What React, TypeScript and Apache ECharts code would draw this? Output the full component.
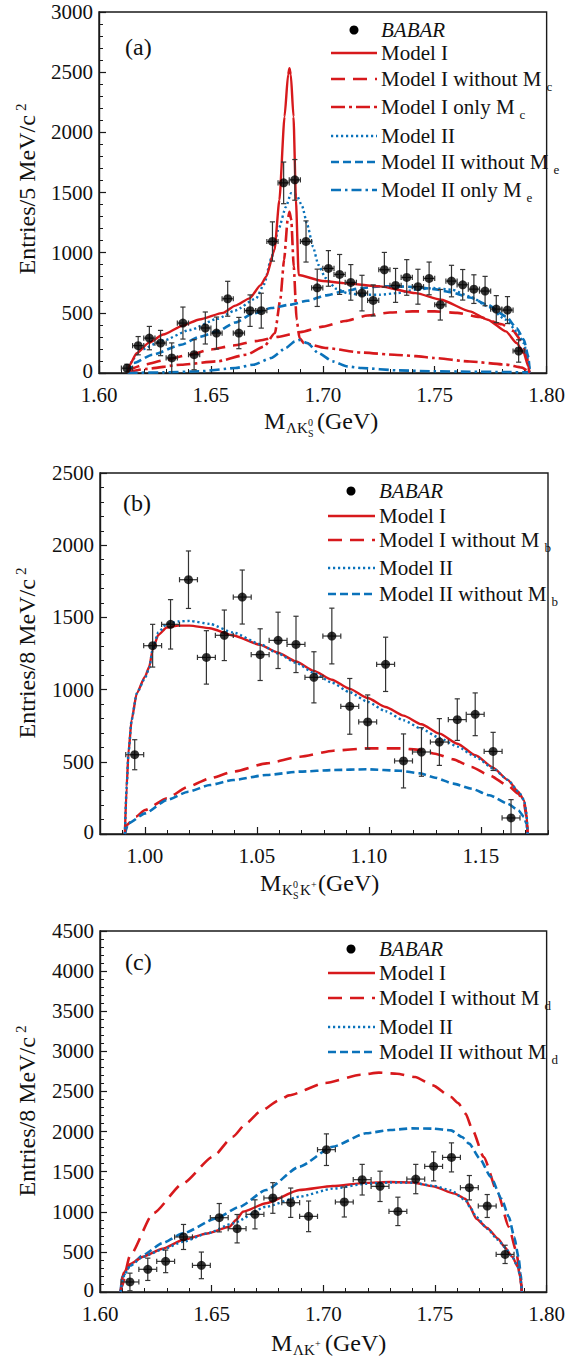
import React, { useEffect, useRef } from "react";
import * as echarts from "echarts";

// ---------------- data: panel (a) ----------------
const aBinX = [1.6125, 1.6175, 1.6225, 1.6275, 1.6325, 1.6375, 1.6425, 1.6475, 1.6525, 1.6575, 1.6625, 1.6675, 1.6725, 1.6775, 1.6825, 1.6875, 1.6925, 1.6975, 1.7025, 1.7075, 1.7125, 1.7175, 1.7225, 1.7275, 1.7325, 1.7375, 1.7425, 1.7475, 1.7525, 1.7575, 1.7625, 1.7675, 1.7725, 1.7775, 1.7825, 1.7875];
const aCounts = [40, 227, 290, 249, 125, 415, 152, 374, 332, 617, 332, 518, 518, 1093, 1580, 1605, 1093, 708, 869, 819, 753, 664, 603, 858, 728, 794, 717, 786, 567, 764, 733, 697, 681, 531, 523, 183];
const aErrors = [33, 76, 97, 105, 125, 133, 125, 133, 133, 145, 130, 131, 145, 163, 173, 169, 171, 155, 148, 166, 148, 148, 129, 144, 141, 148, 145, 136, 127, 131, 127, 119, 122, 112, 112, 93];
const aHalfBin = 0.0025;

const aModelI = [[1.6128, 0], [1.6135, 60], [1.6168, 164], [1.6222, 250], [1.6287, 320], [1.6376, 395], [1.6448, 445], [1.6554, 500], [1.6609, 560], [1.6673, 620], [1.6722, 730], [1.6747, 800], [1.6784, 1022], [1.6806, 1438], [1.6829, 2130], [1.6845, 2480], [1.6851, 2532], [1.6857, 2480], [1.6869, 2130], [1.688, 1438], [1.6892, 814], [1.6999, 765], [1.7093, 747], [1.7254, 720], [1.7415, 664], [1.7528, 609], [1.7657, 512], [1.7737, 443], [1.7818, 346], [1.7866, 249], [1.7898, 166], [1.7918, 55], [1.7923, 0]];
const aModelINoMc = [[1.6128, 0], [1.615, 40], [1.62, 70], [1.63, 110], [1.64, 150], [1.65, 195], [1.66, 228], [1.67, 265], [1.68, 300], [1.69, 340], [1.7, 385], [1.71, 432], [1.72, 478], [1.73, 503], [1.74, 512], [1.75, 512], [1.76, 500], [1.77, 465], [1.78, 405], [1.785, 350], [1.789, 260], [1.791, 150], [1.7923, 0]];
const aModelIOnlyMc = [[1.6128, 0], [1.6135, 14], [1.6206, 33], [1.6367, 69], [1.6529, 97], [1.6658, 152], [1.6738, 221], [1.6786, 332], [1.681, 609], [1.6827, 941], [1.6843, 1273], [1.6851, 1340], [1.6859, 1273], [1.687, 886], [1.6883, 443], [1.6896, 291], [1.6915, 249], [1.7012, 208], [1.7173, 170], [1.7334, 150], [1.7415, 140], [1.7496, 125], [1.7657, 95], [1.7818, 70], [1.789, 45], [1.7915, 20], [1.7923, 0]];
const aModelII = [[1.6128, 0], [1.615, 110], [1.6183, 190], [1.6287, 270], [1.6405, 357], [1.6529, 450], [1.6609, 520], [1.6702, 620], [1.6738, 740], [1.6769, 950], [1.6803, 1200], [1.6835, 1380], [1.6858, 1494], [1.6883, 1480], [1.6907, 1390], [1.6931, 1230], [1.6956, 1050], [1.698, 900], [1.7012, 790], [1.706, 700], [1.7109, 664], [1.7173, 650], [1.7254, 650], [1.7334, 664], [1.7415, 692], [1.7496, 706], [1.7576, 692], [1.7657, 637], [1.7737, 553], [1.7818, 443], [1.7866, 346], [1.7898, 249], [1.7918, 111], [1.7925, 0]];
const aModelIINoMe = [[1.6128, 0], [1.6155, 83], [1.6239, 152], [1.6367, 235], [1.6448, 300], [1.6529, 345], [1.6609, 420], [1.669, 495], [1.677, 540], [1.6851, 567], [1.6931, 600], [1.7012, 645], [1.7093, 678], [1.7173, 706], [1.7254, 720], [1.7334, 720], [1.7415, 714], [1.7496, 697], [1.7576, 670], [1.7657, 628], [1.7737, 567], [1.7818, 471], [1.7866, 374], [1.7898, 277], [1.7918, 138], [1.7925, 0]];
const aModelIIOnlyMe = [[1.6128, 0], [1.6287, 5], [1.6448, 14], [1.6609, 41], [1.669, 69], [1.677, 125], [1.6835, 208], [1.6875, 263], [1.6895, 274], [1.6931, 249], [1.698, 166], [1.7044, 97], [1.7109, 55], [1.7173, 41], [1.7334, 22], [1.7496, 14], [1.7657, 11], [1.7818, 8], [1.7918, 5], [1.7925, 0]];

// ---------------- data: panel (b) ----------------
const bBinX = [0.9955, 1.0035, 1.0115, 1.0195, 1.0275, 1.0355, 1.0435, 1.0515, 1.0595, 1.0675, 1.0755, 1.0835, 1.0915, 1.0995, 1.1075, 1.1155, 1.1235, 1.1315, 1.1395, 1.1475, 1.1555, 1.1635];
const bCounts = [549, 1304, 1452, 1761, 1223, 1376, 1641, 1242, 1341, 1313, 1085, 1371, 884, 776, 1175, 506, 568, 637, 792, 829, 572, 111];
const bErrors = [104, 148, 171, 199, 185, 175, 187, 179, 195, 195, 177, 193, 193, 187, 188, 187, 168, 162, 144, 148, 132, 127];
const bHalfBin = 0.004;

const bModelI = [[0.9911, 0], [0.9919, 328], [0.9927, 559], [0.9941, 789], [0.9964, 974], [1.0001, 1089], [1.002, 1159], [1.0035, 1274], [1.006, 1378], [1.0098, 1430], [1.015, 1443], [1.02, 1443], [1.029, 1425], [1.0395, 1375], [1.0515, 1310], [1.0595, 1255], [1.0675, 1195], [1.0755, 1130], [1.0835, 1068], [1.0915, 1005], [1.0995, 942], [1.1075, 880], [1.1155, 820], [1.1235, 760], [1.1316, 695], [1.1396, 625], [1.1476, 545], [1.1555, 460], [1.162, 375], [1.1668, 291], [1.1693, 233], [1.1704, 141], [1.1709, 0]];
const bModelINoMb = [[0.9911, 0], [0.9919, 62], [0.996, 120], [1.0001, 166], [1.0098, 247], [1.0194, 328], [1.0291, 386], [1.0395, 432], [1.0544, 489], [1.0693, 535], [1.0842, 577], [1.0991, 593], [1.1139, 593], [1.1229, 582], [1.1296, 556], [1.1377, 517], [1.1458, 464], [1.1539, 406], [1.162, 337], [1.1668, 279], [1.1693, 210], [1.1704, 118], [1.1709, 0]];
const bModelII = [[0.9911, 0], [0.9919, 328], [0.9927, 559], [0.9941, 789], [0.9964, 974], [1.0001, 1080], [1.002, 1150], [1.0035, 1280], [1.006, 1395], [1.0098, 1455], [1.015, 1472], [1.02, 1476], [1.029, 1455], [1.0395, 1395], [1.0515, 1315], [1.0595, 1250], [1.0675, 1185], [1.0755, 1115], [1.0835, 1048], [1.0915, 982], [1.0995, 915], [1.1075, 850], [1.1155, 788], [1.1235, 728], [1.1316, 665], [1.1396, 605], [1.1476, 535], [1.1555, 455], [1.162, 375], [1.1668, 295], [1.1693, 235], [1.1704, 141], [1.1709, 0]];
const bModelIINoMb = [[0.9911, 0], [0.9927, 74], [1.0001, 143], [1.0098, 235], [1.0194, 293], [1.0291, 339], [1.0395, 374], [1.0544, 409], [1.0693, 432], [1.0842, 443], [1.0991, 448], [1.1139, 438], [1.1229, 420], [1.1296, 390], [1.1377, 349], [1.1458, 314], [1.1539, 268], [1.162, 210], [1.1668, 164], [1.1693, 118], [1.1704, 70], [1.1709, 0]];

// ---------------- data: panel (c) ----------------
const cBinX = [1.6134, 1.6214, 1.6294, 1.6374, 1.6454, 1.6534, 1.6614, 1.6694, 1.6774, 1.6854, 1.6934, 1.7014, 1.7094, 1.7174, 1.7254, 1.7334, 1.7414, 1.7494, 1.7574, 1.7654, 1.7734, 1.7814];
const cCounts = [125, 283, 382, 686, 332, 926, 789, 968, 1172, 1113, 943, 1774, 1122, 1400, 1317, 1005, 1408, 1566, 1678, 1300, 1072, 469];
const cErrors = [110, 139, 141, 156, 166, 177, 177, 181, 191, 183, 191, 197, 187, 191, 189, 177, 183, 181, 181, 152, 143, 114];
const cHalfBin = 0.004;

const cModelI = [[1.6092, 0], [1.6104, 233], [1.6136, 350], [1.6193, 440], [1.628, 540], [1.6372, 648], [1.648, 730], [1.658, 814], [1.661, 900], [1.664, 1001], [1.6744, 1106], [1.6893, 1271], [1.7042, 1321], [1.7191, 1360], [1.73, 1372], [1.7399, 1365], [1.7491, 1317], [1.7588, 1226], [1.7637, 1159], [1.7653, 1080], [1.7685, 914], [1.7734, 798], [1.7782, 665], [1.7814, 553], [1.7847, 436], [1.7871, 312], [1.7882, 187], [1.7889, 0]];
const cModelINoMd = [[1.6092, 0], [1.6097, 62], [1.6134, 450], [1.6238, 981], [1.6372, 1355], [1.6506, 1687], [1.6595, 1936], [1.6655, 2103], [1.6717, 2250], [1.6804, 2393], [1.6846, 2451], [1.7007, 2605], [1.7169, 2709], [1.7249, 2734], [1.733, 2721], [1.7411, 2680], [1.7491, 2576], [1.7572, 2430], [1.7604, 2356], [1.7637, 2223], [1.7669, 2015], [1.7718, 1683], [1.7782, 1226], [1.7831, 810], [1.7863, 519], [1.7879, 270], [1.7889, 0]];
const cModelII = [[1.6092, 0], [1.6104, 191], [1.6136, 330], [1.6193, 440], [1.628, 530], [1.6372, 627], [1.648, 730], [1.6595, 856], [1.6744, 1063], [1.6893, 1188], [1.7042, 1288], [1.7191, 1350], [1.73, 1365], [1.7399, 1362], [1.7491, 1325], [1.7572, 1267], [1.7637, 1143], [1.7661, 1039], [1.7685, 935], [1.7734, 789], [1.7782, 652], [1.7814, 553], [1.7847, 436], [1.7871, 312], [1.7882, 187], [1.7889, 0]];
const cModelIINoMd = [[1.6092, 0], [1.61, 191], [1.6136, 330], [1.6193, 461], [1.628, 610], [1.6372, 731], [1.6521, 918], [1.6625, 1063], [1.6744, 1271], [1.6893, 1562], [1.7042, 1811], [1.7191, 1978], [1.73, 2020], [1.7399, 2040], [1.7491, 2036], [1.7572, 2015], [1.7621, 1932], [1.7653, 1849], [1.7701, 1662], [1.775, 1433], [1.7798, 1163], [1.7831, 935], [1.7855, 685], [1.7874, 436], [1.7884, 228], [1.7889, 0]];

// tick labels
const acXTicks = [1.6, 1.65, 1.7, 1.75, 1.8];
const bXTicks = [1.0, 1.05, 1.1, 1.15];

// ---------------- styling ----------------
const RED = "#d7191c";
const BLUE = "#0a72ba";
const FONT = "Liberation Serif";
const INK = "#1a1a1a";

const SOLID = { color: RED, width: 2.4, type: "solid" as any };
const RED_DASH = { color: RED, width: 2.6, type: [14, 8] as any };
const RED_DASHDOT = { color: RED, width: 2.6, type: [14, 4, 3, 4] as any };
const BLUE_DOT = { color: BLUE, width: 2.4, type: [2.2, 2.8] as any };
const BLUE_DASH = { color: BLUE, width: 2.6, type: [8, 4] as any };
const BLUE_DASHDOT = { color: BLUE, width: 2.6, type: [10, 4, 2.5, 4] as any };

const renderErr = (params: any, api: any) => {
  const x = api.value(0);
  const y = api.value(1);
  const ey = api.value(2);
  const ex = api.value(3);
  const c = api.coord([x, y]);
  const lo = Math.max(0, y - ey);
  const top = api.coord([x, y + ey]);
  const bot = api.coord([x, lo]);
  const l = api.coord([x - ex, y]);
  const r = api.coord([x + ex, y]);
  const cap = 2.6;
  const st = { stroke: "#333", lineWidth: 1.2 };
  const children: any[] = [
    { type: "line", shape: { x1: c[0], y1: top[1], x2: c[0], y2: bot[1] }, style: st },
    { type: "line", shape: { x1: c[0] - cap, y1: top[1], x2: c[0] + cap, y2: top[1] }, style: st },
    { type: "line", shape: { x1: l[0], y1: c[1], x2: r[0], y2: c[1] }, style: st },
    { type: "line", shape: { x1: l[0], y1: c[1] - cap, x2: l[0], y2: c[1] + cap }, style: st },
    { type: "line", shape: { x1: r[0], y1: c[1] - cap, x2: r[0], y2: c[1] + cap }, style: st },
  ];
  if (y - ey > 0) {
    children.push({ type: "line", shape: { x1: c[0] - cap, y1: bot[1], x2: c[0] + cap, y2: bot[1] }, style: st });
  }
  return { type: "group", children };
};

function curve(name: string, data: number[][], gi: number, ls: any) {
  return {
    type: "line",
    name,
    xAxisIndex: gi,
    yAxisIndex: gi,
    data,
    showSymbol: false,
    symbol: "none",
    smooth: 0.2,
    smoothMonotone: "x",
    clip: true,
    silent: true,
    z: 2,
    lineStyle: { ...ls, cap: "butt" },
  };
}

function errSeries(gi: number, xs: number[], ys: number[], es: number[], hb: number) {
  return {
    type: "custom",
    xAxisIndex: gi,
    yAxisIndex: gi,
    data: xs.map((x, i) => [x, ys[i], es[i], hb]),
    encode: { x: 0, y: 1 },
    renderItem: renderErr,
    silent: true,
    z: 3,
  };
}

function pointSeries(gi: number, xs: number[], ys: number[]) {
  return {
    type: "scatter",
    xAxisIndex: gi,
    yAxisIndex: gi,
    data: xs.map((x, i) => [x, ys[i]]),
    symbol: "circle",
    symbolSize: 9,
    itemStyle: { color: "#000" },
    silent: true,
    z: 4,
  };
}

const axisLine = { show: true, onZero: false, lineStyle: { color: INK, width: 1.4 } };
const axisTick = { show: true, inside: true, length: 7, lineStyle: { color: INK, width: 1.2 } };
const minorTick = { show: true, splitNumber: 5, length: 4, lineStyle: { color: INK, width: 1 } };
const tickFont = { color: "#111", fontSize: 21, fontFamily: FONT, lineHeight: 19 };

function xAxisStd(gi: number, min: number, max: number) {
  return {
    type: "value",
    gridIndex: gi,
    min,
    max,
    interval: 0.05,
    axisLine,
    axisTick,
    minorTick,
    splitLine: { show: false },
    axisLabel: { ...tickFont, margin: 12, formatter: (v: number) => v.toFixed(2) },
  };
}

function yAxisStd(gi: number, max: number) {
  return {
    type: "value",
    gridIndex: gi,
    min: 0,
    max,
    interval: 500,
    axisLine,
    axisTick,
    minorTick,
    splitLine: { show: false },
    axisLabel: {
      ...tickFont,
      margin: 6,
      formatter: (v: number) => (v === 0 ? "{z|0}" : String(Math.round(v))),
      rich: { z: { fontSize: 21, fontFamily: FONT, color: "#111", lineHeight: 19, padding: [0, 0, 5, 0] } },
    },
  };
}

// ---------------- graphic helpers ----------------
type Row = { y: number; kind: "dot" | "line"; ls?: any; label: string; sub?: string; italic?: boolean };

function legend(x1: number, x2: number, tx: number, dotX: number, rows: Row[]) {
  const els: any[] = [];
  rows.forEach((r) => {
    if (r.kind === "dot") {
      els.push({ type: "circle", shape: { cx: dotX, cy: r.y, r: 4.5 }, style: { fill: "#000" } });
    } else {
      els.push({
        type: "line",
        shape: { x1, y1: r.y, x2, y2: r.y },
        style: { stroke: r.ls.color, lineWidth: r.ls.width, lineDash: Array.isArray(r.ls.type) ? r.ls.type : null, lineCap: "butt" },
      });
    }
    els.push({
      type: "text",
      x: tx,
      y: r.y,
      style: {
        text: r.sub ? `{m|${r.label}}{s|${r.sub}}` : `{m|${r.label}}`,
        align: "left",
        verticalAlign: "middle",
        rich: {
          m: { fontSize: 21, fontFamily: FONT, fill: "#111", lineHeight: 28, fontStyle: r.italic ? "italic" : "normal" },
          s: { fontSize: 13, fontFamily: FONT, fill: "#111", lineHeight: 13, verticalAlign: "bottom", padding: [0, 0, 0, 5] },
        },
      },
    });
  });
  return els;
}

function txt(x: number, y: number, text: string, size: number, align = "left") {
  return {
    type: "text",
    x,
    y,
    style: { text, fontSize: size, fontFamily: FONT, fill: "#111", align, verticalAlign: "middle" },
  };
}

function yTitle(x: number, y: number, text: string) {
  return {
    type: "text",
    x,
    y,
    rotation: Math.PI / 2,
    style: {
      text: `{m|${text}}{s|2}`,
      align: "center",
      verticalAlign: "middle",
      rich: {
        m: { fontSize: 24, fontFamily: FONT, fill: "#111", lineHeight: 28 },
        s: { fontSize: 15, fontFamily: FONT, fill: "#111", lineHeight: 15, verticalAlign: "top", padding: [0, 0, 0, 4] },
      },
    },
  };
}

const graphics: any[] = [
  // panel labels
  txt(125, 47, "(a)", 24),
  txt(123, 503, "(b)", 24),
  txt(125, 962, "(c)", 24),
  // y titles
  yTitle(27, 189, "Entries/5 MeV/c"),
  yTitle(27, 653, "Entries/8 MeV/c"),
  yTitle(27, 1111, "Entries/8 MeV/c"),
  // x title (a)
  txt(264, 421, "M", 24),
  txt(286, 428, "ΛK", 15),
  txt(308, 422, "0", 10),
  txt(308, 433, "S", 10),
  txt(317, 421, "(GeV)", 24),
  // x title (b)
  txt(260, 883, "M", 24),
  txt(282, 890, "K", 15),
  txt(293, 884, "0", 10),
  txt(293, 895, "S", 10),
  txt(300, 890, "K", 15),
  txt(311, 884, "+", 10),
  txt(318, 883, "(GeV)", 24),
  // x title (c)
  txt(271, 1343, "M", 24),
  txt(293, 1350, "ΛK", 15),
  txt(315, 1343, "+", 10),
  txt(325, 1343, "(GeV)", 24),
  // legends
  ...legend(331, 377, 381, 354, [
    { y: 30, kind: "dot", label: "BABAR", italic: true },
    { y: 53, kind: "line", ls: SOLID, label: "Model I" },
    { y: 79, kind: "line", ls: RED_DASH, label: "Model I without M", sub: "c" },
    { y: 107, kind: "line", ls: RED_DASHDOT, label: "Model I only M", sub: "c" },
    { y: 136, kind: "line", ls: BLUE_DOT, label: "Model II" },
    { y: 162, kind: "line", ls: BLUE_DASH, label: "Model II without M", sub: "e" },
    { y: 190, kind: "line", ls: BLUE_DASHDOT, label: "Model II only M", sub: "e" },
  ]),
  ...legend(328, 375, 379, 351, [
    { y: 491, kind: "dot", label: "BABAR", italic: true },
    { y: 516, kind: "line", ls: SOLID, label: "Model I" },
    { y: 540, kind: "line", ls: RED_DASH, label: "Model I without M", sub: "b" },
    { y: 568, kind: "line", ls: BLUE_DOT, label: "Model II" },
    { y: 594, kind: "line", ls: BLUE_DASH, label: "Model II without M", sub: "b" },
  ]),
  ...legend(328, 375, 379, 351, [
    { y: 949, kind: "dot", label: "BABAR", italic: true },
    { y: 973, kind: "line", ls: SOLID, label: "Model I" },
    { y: 998, kind: "line", ls: RED_DASH, label: "Model I without M", sub: "d" },
    { y: 1027, kind: "line", ls: BLUE_DOT, label: "Model II" },
    { y: 1052, kind: "line", ls: BLUE_DASH, label: "Model II without M", sub: "d" },
  ]),
];

const option: any = {
  animation: false,
  backgroundColor: "#fff",
  textStyle: { fontFamily: FONT },
  grid: [
    { left: 99, top: 12, width: 449, height: 361, show: true, borderColor: INK, borderWidth: 1.4, backgroundColor: "transparent" },
    { left: 100, top: 473, width: 448, height: 361, show: true, borderColor: INK, borderWidth: 1.4, backgroundColor: "transparent" },
    { left: 100, top: 931, width: 448, height: 361, show: true, borderColor: INK, borderWidth: 1.4, backgroundColor: "transparent" },
  ],
  xAxis: [
    xAxisStd(0, acXTicks[0], acXTicks[acXTicks.length - 1]),
    {
      type: "value",
      gridIndex: 1,
      min: 0.98,
      max: 1.18,
      axisLine,
      axisTick: { ...axisTick, customValues: bXTicks },
      minorTick: { show: false },
      splitLine: { show: false },
      axisLabel: { ...tickFont, margin: 12, customValues: bXTicks, formatter: (v: number) => v.toFixed(2) },
    },
    xAxisStd(2, acXTicks[0], acXTicks[acXTicks.length - 1]),
    {
      type: "value",
      gridIndex: 1,
      position: "bottom",
      offset: 0,
      min: 0.98,
      max: 1.18,
      interval: 0.01,
      axisLine: { show: false },
      axisTick: { show: true, inside: true, length: 4, lineStyle: { color: INK, width: 1 } },
      minorTick: { show: false },
      splitLine: { show: false },
      axisLabel: { show: false },
    },
  ],
  yAxis: [yAxisStd(0, 3000), yAxisStd(1, 2500), yAxisStd(2, 4500)],
  series: [
    curve("Model I only Mc", aModelIOnlyMc, 0, RED_DASHDOT),
    curve("Model I without Mc", aModelINoMc, 0, RED_DASH),
    curve("Model II only Me", aModelIIOnlyMe, 0, BLUE_DASHDOT),
    curve("Model II without Me", aModelIINoMe, 0, BLUE_DASH),
    curve("Model II", aModelII, 0, BLUE_DOT),
    curve("Model I", aModelI, 0, SOLID),
    errSeries(0, aBinX, aCounts, aErrors, aHalfBin),
    pointSeries(0, aBinX, aCounts),

    curve("Model I without Mb", bModelINoMb, 1, RED_DASH),
    curve("Model II without Mb", bModelIINoMb, 1, BLUE_DASH),
    curve("Model I", bModelI, 1, SOLID),
    curve("Model II", bModelII, 1, BLUE_DOT),
    errSeries(1, bBinX, bCounts, bErrors, bHalfBin),
    pointSeries(1, bBinX, bCounts),

    curve("Model I without Md", cModelINoMd, 2, RED_DASH),
    curve("Model II without Md", cModelIINoMd, 2, BLUE_DASH),
    curve("Model I", cModelI, 2, SOLID),
    curve("Model II", cModelII, 2, BLUE_DOT),
    errSeries(2, cBinX, cCounts, cErrors, cHalfBin),
    pointSeries(2, cBinX, cCounts),
  ],
  graphic: { elements: graphics },
};

export default function App() {
  const ref = useRef<HTMLDivElement>(null);
  useEffect(() => {
    if (!ref.current) return;
    const chart = echarts.init(ref.current, undefined, { renderer: "svg" });
    chart.setOption(option);
    return () => chart.dispose();
  }, []);
  return (
    <div
      ref={ref}
      style={{ position: "absolute", left: 0, top: 0, width: 568, height: 1359, background: "#fff" }}
    />
  );
}
